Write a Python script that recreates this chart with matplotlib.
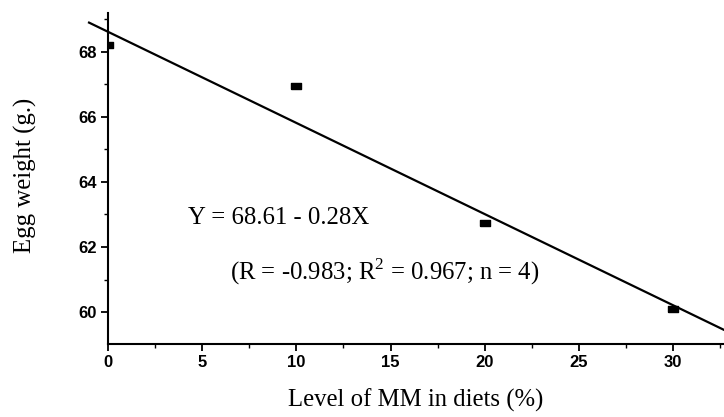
import numpy as np
import matplotlib
matplotlib.use('Agg')
from matplotlib import pyplot as plt
from matplotlib.ticker import MultipleLocator

# Level of MM in diets (%) and mean egg weight (g.)
levels = [0, 10, 20, 30]
egg_weight = [68.2, 66.95, 62.74, 60.1]

# Regression fit as printed on the chart
intercept = 68.61
slope = -0.28
fit_x = [-1.0, 32.7]

eq_text = 'Y = 68.61 - 0.28X'
stats_text = r'(R = -0.983; R$^{\mathrm{2}}$ = 0.967; n = 4)'

plt.rcParams['mathtext.fontset'] = 'custom'
plt.rcParams['mathtext.rm'] = 'Liberation Serif'

fig = plt.figure(figsize=(7.24, 4.17), dpi=100)
ax = fig.add_axes([0.149, 0.175, 0.851, 0.795])

# small flat rectangle markers like the scan
rect = [(-1, -0.6), (1, -0.6), (1, 0.6), (-1, 0.6), (-1, -0.6)]
ax.plot(levels, egg_weight, linestyle='none', marker=rect, markersize=7,
        color='black', zorder=3)

fit_y = [intercept + slope * x for x in fit_x]
ax.plot(fit_x, fit_y, color='black', linewidth=1.6, clip_on=False)

ax.set_xlim(0, 32.7)
ax.set_ylim(59.02, 69.2)
ax.xaxis.set_major_locator(MultipleLocator(5))
ax.xaxis.set_minor_locator(MultipleLocator(2.5))
ax.yaxis.set_minor_locator(MultipleLocator(1))
ax.set_yticks([60, 62, 64, 66, 68])

for side in ['top', 'right']:
    ax.spines[side].set_visible(False)
for side in ['left', 'bottom']:
    ax.spines[side].set_linewidth(1.5)

ax.tick_params(which='major', direction='out', length=5, width=1.3,
               labelsize=12, pad=3)
ax.tick_params(which='minor', direction='out', length=3, width=1.0)
for lab in ax.get_xticklabels() + ax.get_yticklabels():
    lab.set_fontfamily('Liberation Sans')
    lab.set_fontweight('bold')

ax.set_xlabel('Level of MM in diets (%)', fontfamily='Liberation Serif',
              fontsize=17.8, labelpad=13)
ax.set_ylabel('Egg weight (g.)', fontfamily='Liberation Serif', fontsize=17.8)
ax.yaxis.set_label_coords(-0.115, 0.51)

ax.text(4.26, 62.89, eq_text, fontfamily='Liberation Serif', fontsize=17.8,
        va='center', ha='left')
ax.text(6.5, 61.23, stats_text, fontfamily='Liberation Serif', fontsize=17.8,
        va='center', ha='left')

fig.savefig('out.png', dpi=100)
